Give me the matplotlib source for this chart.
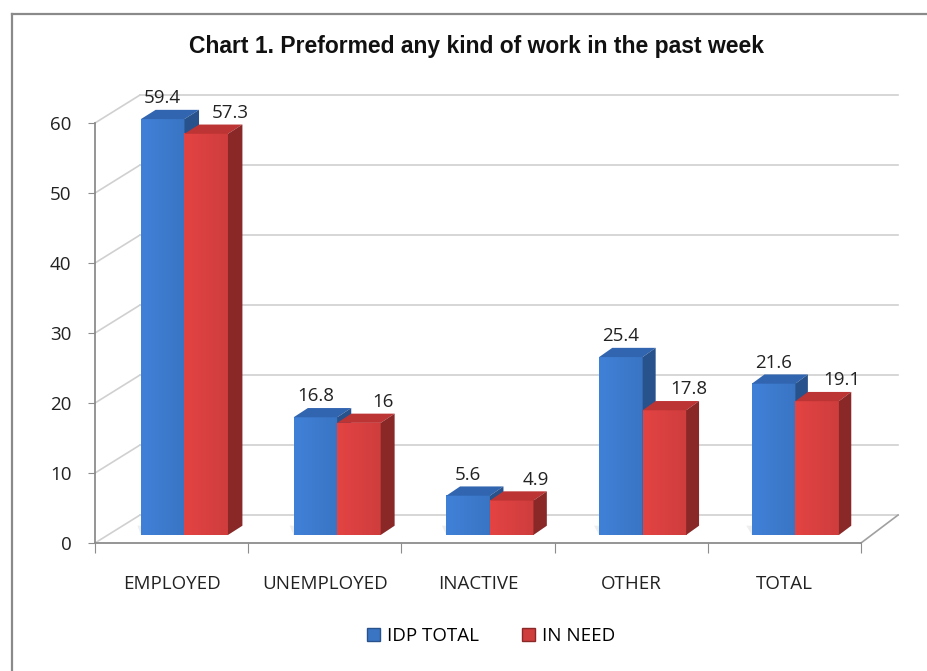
import numpy as np
import matplotlib
matplotlib.use("Agg")
import matplotlib.pyplot as plt
from matplotlib.patches import Polygon, Patch
from matplotlib.lines import Line2D

# Chart data
categories = ["EMPLOYED", "UNEMPLOYED", "INACTIVE", "OTHER", "TOTAL"]
idp_total = [59.4, 16.8, 5.6, 25.4, 21.6]
in_need = [57.3, 16, 4.9, 17.8, 19.1]
series_names = ["IDP TOTAL", "IN NEED"]
y_ticks = [0, 10, 20, 30, 40, 50, 60]

# colours: front, top, side
blue = ("#3a75c4", "#3165b0", "#28528c")
red = ("#cf3d3d", "#bd3434", "#8a2727")
grid_col = "#d0d0d0"
axis_col = "#8c8c8c"

plt.rcParams["font.family"] = ["Open Sans", "DejaVu Sans"]

# fake 3D: depth offset of the back wall, in data units
BACK_X0 = 0.294
BACK_SCALE = 0.9896
DEPTH_Y = 4.0
D0, D1 = 0.29, 0.62
BAR_W = 0.285


def proj(x, y, d):
    return x + d * (BACK_X0 + (BACK_SCALE - 1) * x), y + DEPTH_Y * d


fig = plt.figure(figsize=(9.28, 6.71), dpi=100)
ax = fig.add_axes([95 / 928, 128 / 671, 766 / 928, 420 / 671])
ax.set_xlim(0, len(categories))
ax.set_ylim(0, 60)

# outer frame (only top and left edges show)
fx_l, fy_t = 12 / 928, 1 - 14 / 671
fig.add_artist(Line2D([fx_l, 1.02], [fy_t, fy_t], transform=fig.transFigure,
                      color="#8a8a8a", lw=1.6))
fig.add_artist(Line2D([fx_l, fx_l], [-0.02, fy_t], transform=fig.transFigure,
                      color="#8a8a8a", lw=1.6))

# back wall grid and side wall diagonals
n = len(categories)
for t in y_ticks:
    bx0, by = proj(0, t, 1)
    bx1, _ = proj(n, t, 1)
    ax.plot([bx0, bx1], [by, by], color=grid_col, lw=1.2, clip_on=False, zorder=1)
    ax.plot([0, bx0], [t, by], color=grid_col, lw=1.2, clip_on=False, zorder=1)
# right edge of floor
fx, fy = proj(n, 0, 1)
ax.plot([n, fx], [0, fy], color="#a0a0a0", lw=1.2, clip_on=False, zorder=1)

# bars
for s, (vals, cols) in enumerate([(idp_total, blue), (in_need, red)]):
    base_rgb = np.array(matplotlib.colors.to_rgb(cols[0]))
    cmap = matplotlib.colors.LinearSegmentedColormap.from_list(
        "g", [cols[0], tuple(np.clip(base_rgb * 1.1, 0, 1))])
    for i, v in enumerate(vals):
        x0 = i + 0.5 - BAR_W + s * BAR_W
        x1 = x0 + BAR_W
        # soft shadow on the floor, left of the bar pair
        if s == 0:
            for k, a in enumerate([0.12, 0.18, 0.25]):
                ext = 0.12 - 0.04 * k
                sh = [proj(x0 - ext, 0, D1), proj(x0 + 2 * BAR_W, 0, D1),
                      proj(x0 + 2 * BAR_W, 0, D0), proj(x0, 0, D0)]
                ax.add_patch(Polygon(sh, closed=True, facecolor="#7a7a7a", alpha=a,
                                     edgecolor="none", clip_on=False, zorder=2))
        fx0, fy0 = proj(x0, 0, D0)
        fx1, fy1 = proj(x1, v, D0)
        grad = np.linspace(1.0, 0.0, 40).reshape(1, -1)
        ax.imshow(grad, extent=(fx0, fx1, fy0, fy1), aspect="auto", cmap=cmap,
                  clip_on=False, zorder=3 + s, interpolation="bicubic")
        top = [proj(x0, v, D0), proj(x1, v, D0), proj(x1, v, D1), proj(x0, v, D1)]
        side = [proj(x1, 0, D0), proj(x1, v, D0), proj(x1, v, D1), proj(x1, 0, D1)]
        ax.add_patch(Polygon(top, closed=True, facecolor=cols[1], edgecolor="none",
                             clip_on=False, zorder=3 + s))
        ax.add_patch(Polygon(side, closed=True, facecolor=cols[2], edgecolor="none",
                             clip_on=False, zorder=3 + s))
        # value label
        lx, ly = proj((x0 + x1) / 2 + (0.16 if s == 1 else 0), v + 3.0, D0)
        ax.text(lx, ly, f"{v:g}", ha="center", va="center", fontsize=13.5,
                color="#222222", zorder=6)

# axes styling
for side_name in ["top", "right"]:
    ax.spines[side_name].set_visible(False)
for side_name in ["left", "bottom"]:
    ax.spines[side_name].set_color(axis_col)
    ax.spines[side_name].set_linewidth(1.3)
ax.set_facecolor("none")
ax.set_yticks(y_ticks)
ax.tick_params(axis="y", length=5, color=axis_col, pad=12, labelsize=13.5,
               labelcolor="#222222")
ax.set_xticks(range(n + 1))
ax.set_xticklabels([])
ax.set_xticks([i + 0.5 for i in range(n)], minor=True)
ax.set_xticklabels(categories, minor=True)
ax.tick_params(axis="x", which="major", length=7, color=axis_col, direction="out")
ax.tick_params(axis="x", which="minor", length=0, pad=23, labelsize=13.5,
               labelcolor="#222222")

fig.text(477 / 928, 1 - 47 / 671, "Chart 1. Preformed any kind of work in the past week",
         ha="center", va="center", fontsize=16.5, fontweight="bold",
         family=["Liberation Sans", "DejaVu Sans"], color="#111111")

handles = [Patch(facecolor=blue[0], edgecolor=blue[2]),
           Patch(facecolor=red[0], edgecolor=red[2])]
fig.legend(handles, series_names, loc="center", bbox_to_anchor=(491 / 928, 1 - 636 / 671),
           ncol=2, frameon=False, fontsize=13.5, handlelength=0.7, handleheight=0.65,
           handletextpad=0.35, columnspacing=2.3)

fig.savefig("out.png", dpi=100)
